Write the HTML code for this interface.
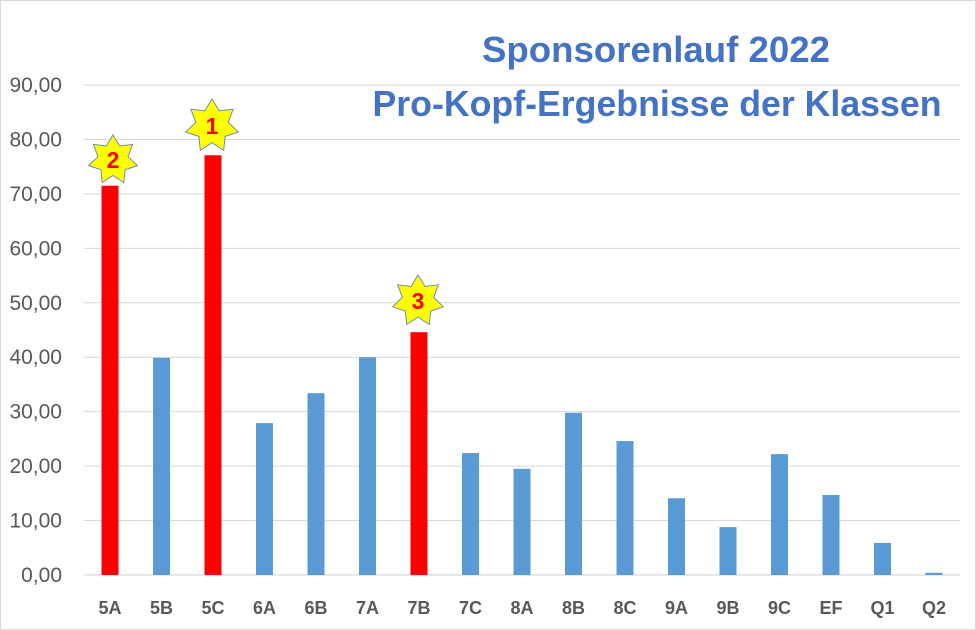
<!DOCTYPE html>
<html><head><meta charset="utf-8"><style>
body{margin:0;background:#fff}
svg{display:block}
text{font-family:"Liberation Sans",sans-serif}
</style></head><body>
<svg id="c" width="976" height="630" xmlns="http://www.w3.org/2000/svg">
<rect x="0.5" y="0.5" width="975" height="629" fill="#fff" stroke="#d9d9d9"/>
<g id="g"></g>
<text x="656" y="62" text-anchor="middle" font-size="36" font-weight="bold" fill="#4472c4" textLength="348" lengthAdjust="spacingAndGlyphs">Sponsorenlauf 2022</text>
<text x="657" y="116" text-anchor="middle" font-size="36" font-weight="bold" fill="#4472c4" textLength="569" lengthAdjust="spacingAndGlyphs">Pro-Kopf-Ergebnisse der Klassen</text>
</svg>
<script>
var g=document.getElementById('g'),s='';
for(var i=0;i<=9;i++){var y=575-i*54.44;
s+='<line x1="84" x2="960" y1="'+y+'" y2="'+y+'" stroke="'+(i==0?'#d0d0d0':'#d9d9d9')+'" stroke-width="1"/>';
s+='<text x="62" y="'+(y+7)+'" text-anchor="end" font-size="21" fill="#595959">'+(i*10)+',00</text>';}
var cats=['5A','5B','5C','6A','6B','7A','7B','7C','8A','8B','8C','9A','9B','9C','EF','Q1','Q2'];
var v=[71.5,39.9,77.1,27.9,33.4,40.0,44.6,22.4,19.5,29.8,24.6,14.1,8.8,22.2,14.7,5.9,0.4];
for(var k=0;k<17;k++){var cx=110+k*51.5,h=v[k]*5.444;
var red=(k==0||k==2||k==6);
s+='<rect x="'+(cx-8.5)+'" y="'+(575-h)+'" width="17" height="'+h+'" fill="'+(red?'#ff0000':'#5b9bd5')+'"/>';
s+='<text x="'+cx+'" y="614" text-anchor="middle" font-size="18" font-weight="bold" fill="#595959">'+cats[k]+'</text>';}
function star(cx,cy,R,lab){var p=[];for(var j=0;j<14;j++){var r=j%2?R*0.62:R,a=-Math.PI/2+j*Math.PI/7;p.push((cx+r*Math.cos(a)).toFixed(1)+','+(cy+r*Math.sin(a)).toFixed(1));}
return '<polygon points="'+p.join(' ')+'" fill="#ffff00" stroke="#6d8fa8" stroke-width="1"/><text x="'+cx+'" y="'+(cy+8)+'" text-anchor="middle" font-size="23" font-weight="bold" fill="#ff0000">'+lab+'</text>';}
s+=star(113,160,25,'2')+star(212,126,27,'1')+star(418,301,26,'3');
g.innerHTML=s;
</script>
</body></html>
